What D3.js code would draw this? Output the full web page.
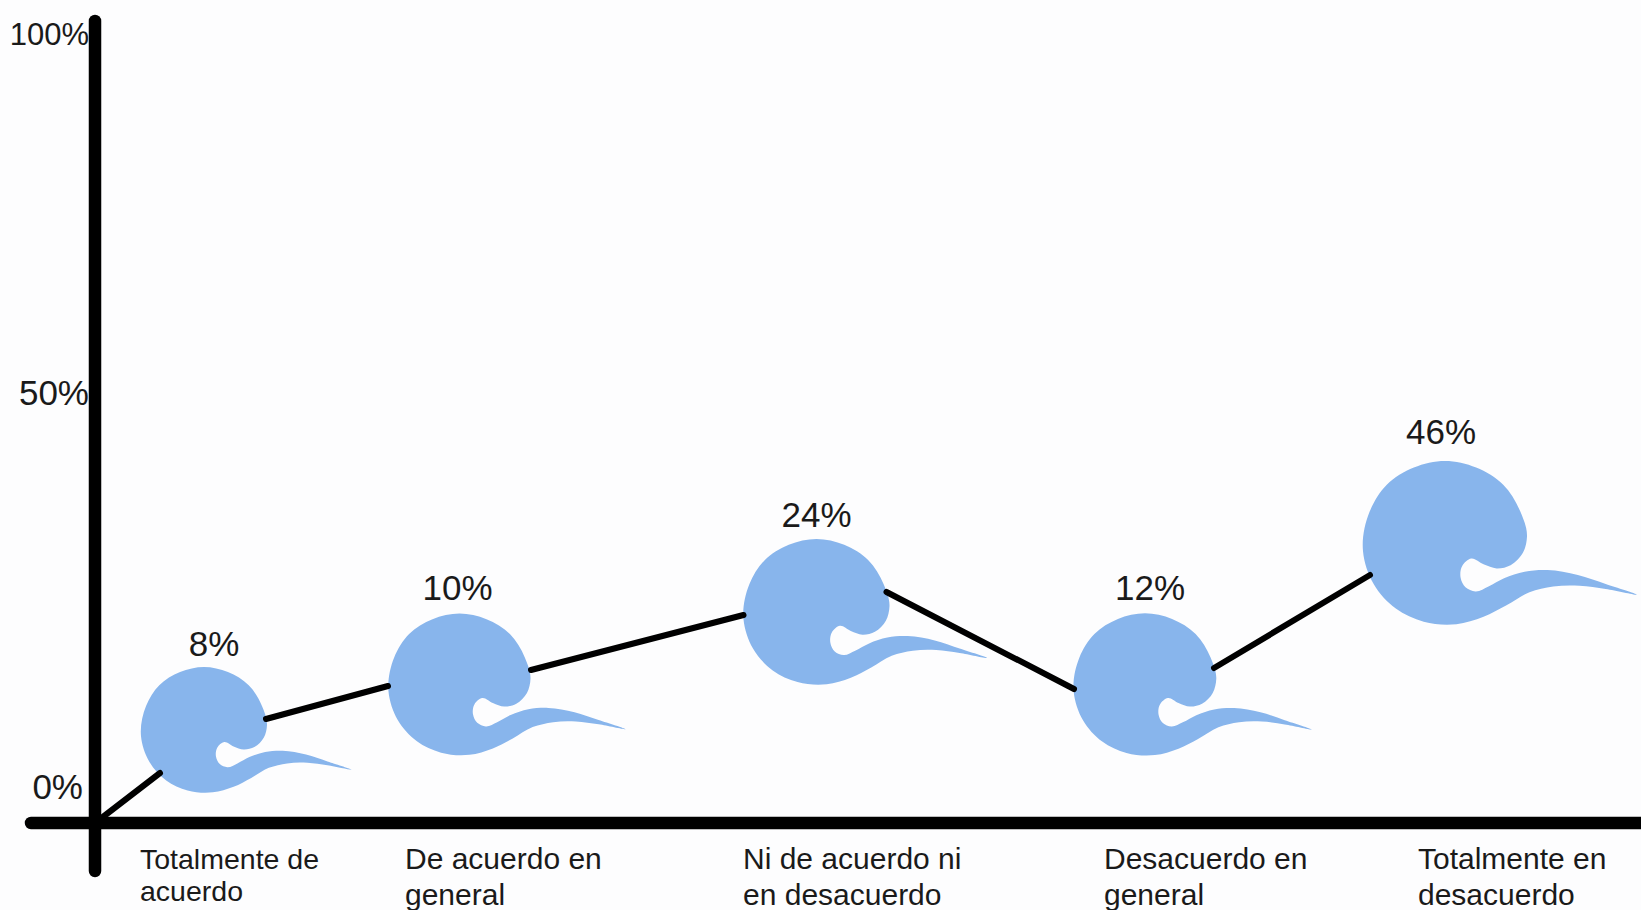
<!DOCTYPE html>
<html lang="es">
<head>
<meta charset="utf-8">
<title>Grado de acuerdo</title>
<script src="https://cdn.jsdelivr.net/npm/d3@7"></script>
<style>
  html, body { margin: 0; padding: 0; background: #fdfdfe; }
  svg { display: block; font-family: "Liberation Sans", Arial, sans-serif; fill: #1a1a1a; }
</style>
</head>
<body>
<svg id="chart" width="1641" height="910"></svg>
<script>
// Survey answers and the share of respondents for each one
const categories = [
  ["Totalmente de", "acuerdo"],
  ["De acuerdo en", "general"],
  ["Ni de acuerdo ni", "en desacuerdo"],
  ["Desacuerdo en", "general"],
  ["Totalmente en", "desacuerdo"]
];
const values = [8, 10, 24, 12, 46];
const axisTicks = [0, 50, 100];

const svg = d3.select("#chart");
const width = 1641;

// The axis is hand-proportioned, so both scales are piecewise
const x = d3.scaleLinear().domain([-1, 0, 1, 2, 3, 4]).range([95, 204, 459.5, 816.5, 1145, 1445]);
const y = d3.scaleLinear()
  .domain([0, 8, 10, 12, 24, 46, 50, 100])
  .range([823, 730, 684.5, 684.5, 612, 543, 393, 35]);
const radius = d3.scaleLinear().domain([8, 10, 24, 46]).range([63, 71, 73, 82]);

// Where the connector meets each figure, relative to its centre
const connectorIn  = [[-44, 43], [-71.5, 1.5], [-73, 3], [-71, 4.5], [-75, 32]];
const connectorOut = [[62, -11], [71.5, -14.5], [70, -20], [69, -16.5], null];

// Outline of the wave-like marker on a unit circle
const markerOutline = [
  [0, -1], [0.38, -0.92], [0.71, -0.71], [0.92, -0.38], [1, -0.08], [0.95, 0.12],
  [0.8, 0.27], [0.63, 0.31], [0.47, 0.26], [0.32, 0.19], [0.21, 0.28], [0.19, 0.42], [0.25, 0.54],
  [0.37, 0.59], [0.53, 0.53], [0.72, 0.43], [0.97, 0.35], [1.25, 0.33], [1.62, 0.39], [1.96, 0.5],
  [2.34, 0.63], [1.96, 0.56], [1.64, 0.52], [1.32, 0.53], [1.03, 0.6], [0.75, 0.76], [0.47, 0.9],
  [0.14, 0.99], [-0.26, 0.96], [-0.6, 0.8], [-0.87, 0.5], [-1, 0.1], [-0.92, -0.38],
  [-0.71, -0.71], [-0.38, -0.92]
];
const markerPath = d3.line().curve(d3.curveCatmullRomClosed.alpha(1));

// Nudges for the value labels above the markers, and the answer text columns
const valueLabelShift = [[10, -24], [-2, -26], [0, -25], [5, -26], [-4, -30]];
const answerLeft = [140, 405, 743, 1104, 1418];
const answerSize = [28.5, 30, 30, 30, 30];
const answerSecondBaseline = [901, 905, 905, 905, 905];

const points = values.map((v, i) => ({ v, cx: x(i), cy: y(v), r: radius(v), i }));

// Left axis labels sit under the thick rule
const yAxis = d3.axisLeft(y).tickValues(axisTicks).tickSize(0).tickPadding(0)
  .tickFormat(d => d + "%");
const yAxisG = svg.append("g").attr("transform", "translate(89,0)").call(yAxis);
yAxisG.select(".domain").remove();
yAxisG.selectAll("text")
  .attr("font-size", d => d === 100 ? 31 : 35)
  .attr("font-family", "Liberation Sans, Arial, sans-serif")
  .attr("fill", "#1a1a1a")
  .attr("dx", d => d === 0 ? -6 : 0)
  .attr("y", d => d === 0 ? -36 : 0);

// Axis rules
svg.append("line").attr("x1", x(-1)).attr("x2", x(-1)).attr("y1", 21).attr("y2", 871)
  .attr("stroke", "#000").attr("stroke-width", 12.5).attr("stroke-linecap", "round");
svg.append("line").attr("x1", 31).attr("x2", width + 10).attr("y1", y(0)).attr("y2", y(0))
  .attr("stroke", "#000").attr("stroke-width", 12.5).attr("stroke-linecap", "round");

// Markers
svg.append("g").selectAll("path").data(points).join("path")
  .attr("transform", d => `translate(${d.cx},${d.cy}) scale(${d.r})`)
  .attr("d", markerPath(markerOutline))
  .attr("fill", "#88b5ec");

// Connector pieces between the markers
const segments = [[[x(-1), y(0)],
  [points[0].cx + connectorIn[0][0], points[0].cy + connectorIn[0][1]]]];
points.slice(0, -1).forEach((p, i) => {
  const q = points[i + 1];
  segments.push([
    [p.cx + connectorOut[i][0], p.cy + connectorOut[i][1]],
    [q.cx + connectorIn[i + 1][0], q.cy + connectorIn[i + 1][1]]
  ]);
});
svg.append("g").selectAll("path").data(segments).join("path")
  .attr("d", d3.line())
  .attr("fill", "none").attr("stroke", "#000").attr("stroke-width", 6).attr("stroke-linecap", "round");

// Value labels
svg.append("g").selectAll("text").data(points).join("text")
  .attr("x", d => d.cx + valueLabelShift[d.i][0])
  .attr("y", d => d.cy - d.r + valueLabelShift[d.i][1])
  .attr("text-anchor", "middle").attr("dominant-baseline", "central")
  .attr("font-size", 35)
  .text(d => d.v + "%");

// Answer text under the baseline
const answers = svg.append("g").selectAll("text").data(categories).join("text")
  .attr("font-size", (d, i) => answerSize[i]);
answers.append("tspan").attr("x", (d, i) => answerLeft[i]).attr("y", 869).text(d => d[0]);
answers.append("tspan").attr("x", (d, i) => answerLeft[i]).attr("y", (d, i) => answerSecondBaseline[i]).text(d => d[1]);
</script>
</body>
</html>
